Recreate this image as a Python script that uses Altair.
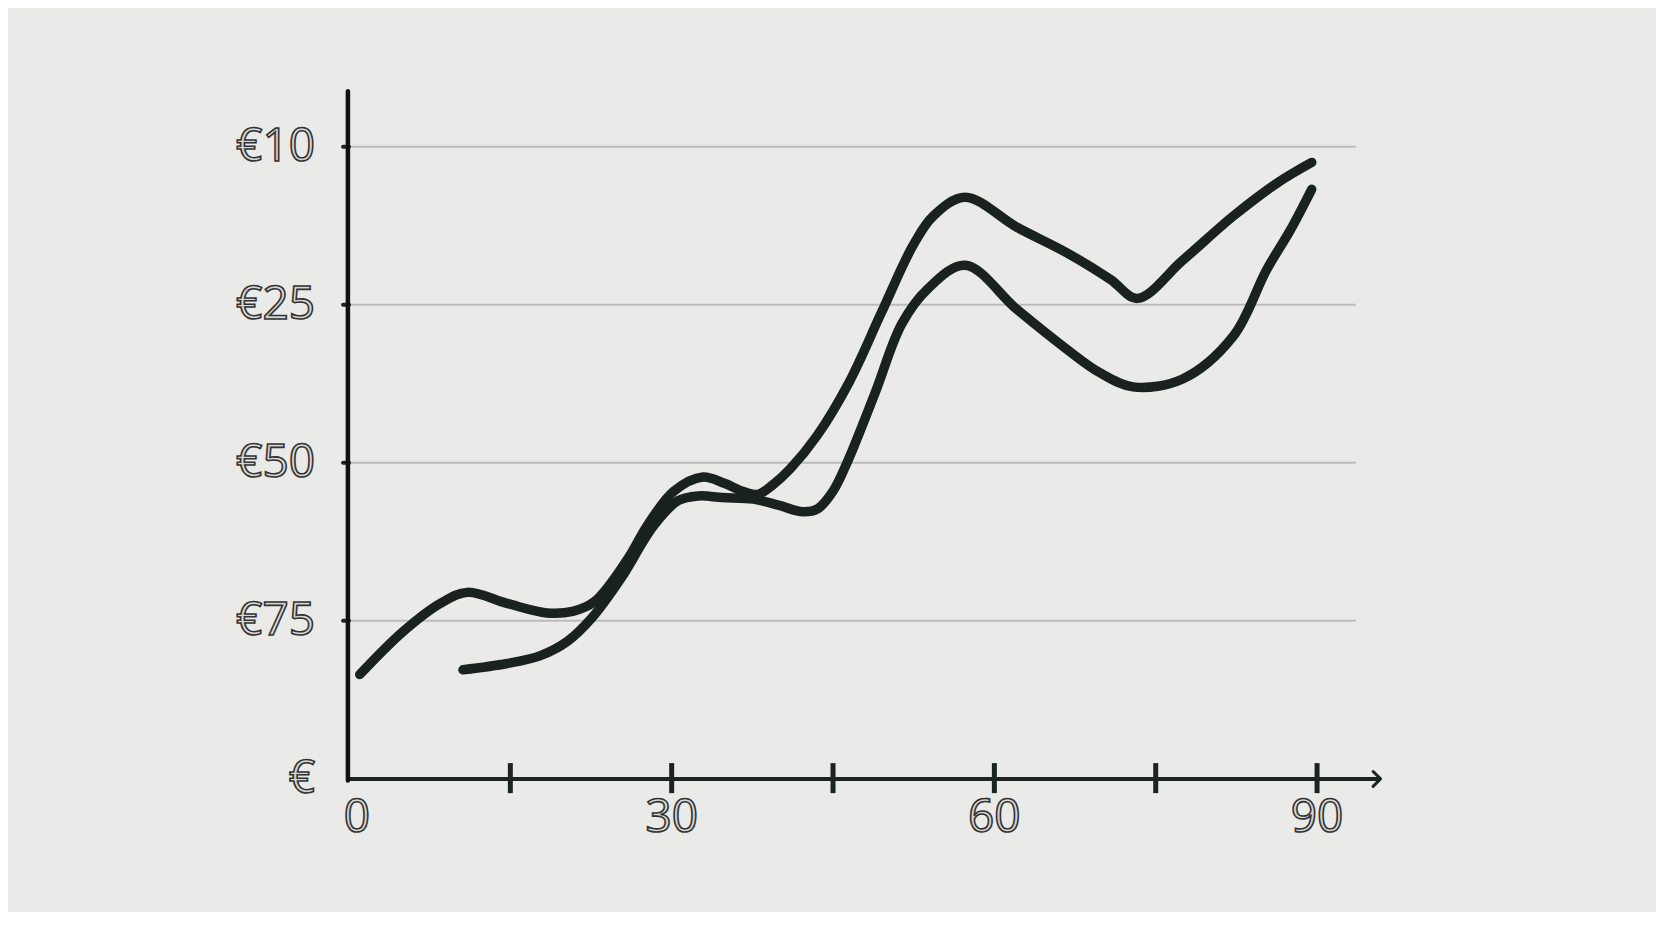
import altair as alt
import pandas as pd

# ---- data (x: 0..90, y: gridline level 0..4) ----
line_a_x = [1.0, 5.0, 8.5, 11.0, 14.7, 18.4, 20.8, 22.8, 25.8, 27.8, 30.2, 32.9, 34.9, 36.6,
            38.0, 39.4, 41.0, 43.5, 46.5, 49.5, 52.4, 54.3, 57.3, 62.1, 66.7, 70.8, 73.3,
            77.5, 82.2, 86.3, 89.5]
line_a_y = [0.66, 0.93, 1.11, 1.18, 1.11, 1.05, 1.06, 1.12, 1.38, 1.61, 1.82, 1.91, 1.87, 1.82,
            1.80, 1.86, 1.96, 2.17, 2.51, 2.95, 3.37, 3.56, 3.68, 3.49, 3.33, 3.16, 3.04,
            3.28, 3.56, 3.77, 3.90]

line_b_x = [10.6, 14.7, 17.8, 20.3, 22.6, 25.3, 28.3, 30.6, 32.5, 34.7, 37.6, 40.0, 42.2, 43.6,
            45.0, 46.3, 48.9, 51.4, 53.8, 57.3, 62.1, 66.7, 69.8, 72.9, 77.5, 82.2, 85.3,
            87.5, 89.5]
line_b_y = [0.69, 0.73, 0.78, 0.87, 1.02, 1.27, 1.60, 1.76, 1.79, 1.78, 1.77, 1.73, 1.69, 1.71,
            1.82, 2.00, 2.44, 2.88, 3.10, 3.25, 2.97, 2.72, 2.57, 2.48, 2.53, 2.80, 3.22,
            3.47, 3.73]

y_levels = [0, 1, 2, 3, 4]
y_labels = ["€", "€75", "€50", "€25", "€10"]
grid_levels = [1, 2, 3, 4]
x_ticks = [15, 30, 45, 60, 75, 90]
x_label_vals = [0, 30, 60, 90]
x_label_text = ["0", "30", "60", "90"]

# ---- layout constants ----
X_DOMAIN = [-31.70, 121.51]
Y_DOMAIN = [-0.842, 4.877]
GRID_END = 93.6
AXIS_TOP = 4.35
ARROW_END = 95.9
INK = "#1a221f"

xs = alt.Scale(domain=X_DOMAIN, nice=False, zero=False)
ys = alt.Scale(domain=Y_DOMAIN, nice=False, zero=False)


def X(field="x"):
    return alt.X(field, type="quantitative", scale=xs, axis=None)


def Y(field="y"):
    return alt.Y(field, type="quantitative", scale=ys, axis=None)


lines_df = pd.concat([
    pd.DataFrame({"x": line_a_x, "y": line_a_y, "s": "A"}),
    pd.DataFrame({"x": line_b_x, "y": line_b_y, "s": "B"}),
])

grid_df = pd.DataFrame({"y": grid_levels, "x": 0.0, "x2": GRID_END})
nub_df = pd.DataFrame({"y": grid_levels, "x": -0.55, "x2": 0.0})
ylab_df = pd.DataFrame({"y": y_levels, "t": y_labels, "x": -3.16})
xtick_df = pd.DataFrame({"x": x_ticks, "y": 0.10, "y2": -0.09})
xlab_df = pd.DataFrame({"x": x_label_vals, "t": x_label_text, "y": -0.25})
yaxis_df = pd.DataFrame({"x": [-0.1], "y": [-0.01], "y2": [AXIS_TOP]})
xaxis_df = pd.DataFrame({"y": [0.0], "x": [-0.1], "x2": [ARROW_END - 0.1]})
arrow_df = pd.DataFrame({"x": [ARROW_END], "y": [0.0]})

grid = alt.Chart(grid_df).mark_rule(color="#bcbcbc", strokeWidth=2).encode(
    x=X(), x2="x2", y=Y())
nubs = alt.Chart(nub_df).mark_rule(color="#222", strokeWidth=4, strokeCap="round").encode(
    x=X(), x2="x2", y=Y())
yaxis = alt.Chart(yaxis_df).mark_rule(color="#111", strokeWidth=4.5, strokeCap="round").encode(
    x=X(), y=Y(), y2="y2")
xaxis = alt.Chart(xaxis_df).mark_rule(color="#1c2422", strokeWidth=4).encode(
    x=X(), x2="x2", y=Y())
arrow = alt.Chart(arrow_df).mark_point(
    shape="M-1,-1L0,0L-1,1", size=220, filled=False, stroke="#1c2422",
    strokeWidth=3, strokeCap="round", strokeJoin="round", opacity=1).encode(x=X(), y=Y())
xticks = alt.Chart(xtick_df).mark_rule(color="#1c2422", strokeWidth=5).encode(
    x=X(), y=Y(), y2="y2")

text_style = dict(font="Open Sans", fontSize=46, fill="#d6d6d4", stroke="#333333",
                  strokeWidth=1.6, baseline="middle")
ylabels = alt.Chart(ylab_df).mark_text(align="right", **text_style).encode(
    x=X(), y=Y(), text="t:N")
xlabels_zero = alt.Chart(xlab_df).transform_filter("datum.x == 0").mark_text(
    align="center", dx=8, **text_style).encode(x=X(), y=Y(), text="t:N")
xlabels = alt.Chart(xlab_df).transform_filter("datum.x != 0").mark_text(
    align="center", **text_style).encode(x=X(), y=Y(), text="t:N")

curves = alt.Chart(lines_df).mark_line(
    interpolate="catmull-rom", strokeWidth=9.5, strokeCap="round", strokeJoin="round",
    color=INK).encode(x=X(), y=Y(), detail="s:N")

chart = alt.layer(
    grid, nubs, xticks, xaxis, yaxis, arrow, ylabels, xlabels_zero, xlabels, curves
).properties(
    width=1648, height=904, padding=0,
    autosize=alt.AutoSizeParams(type="none"),
    background="#eaebe9",
).configure_view(stroke=None)

chart.save("out.html", embed_options={"renderer": "svg", "actions": False})
